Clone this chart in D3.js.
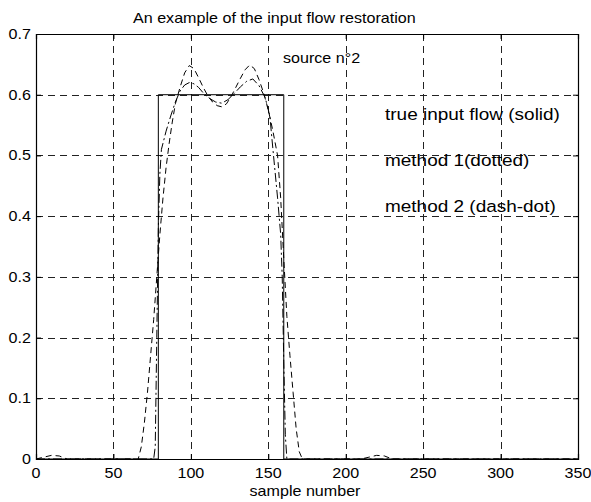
<!DOCTYPE html>
<html>
<head>
<meta charset="utf-8">
<script src="https://cdn.jsdelivr.net/npm/d3@7"></script>
<style>
  body { margin: 0; background: #fff; }
  svg text { font-family: "Liberation Sans", Arial, sans-serif; fill: #000; }
</style>
</head>
<body>
<div id="chart"></div>
<script>
// ticks
const sampleTicks = [0, 50, 100, 150, 200, 250, 300, 350];
const flowTicks = [0, 0.1, 0.2, 0.3, 0.4, 0.5, 0.6, 0.7];

// true input flow (solid)
const trueSamples = [0, 79, 79, 160, 160, 350];
const trueFlow = [0, 0, 0.6, 0.6, 0, 0];

// method 1 (wide restoration, taller humps)
const method1Samples = [0, 5, 10, 15, 20, 60, 66, 68, 70, 72, 74, 76, 78, 80, 82, 84, 86, 88, 90, 93, 96, 99, 102, 105, 108, 111, 114, 117, 120, 123, 126, 129, 132, 135, 138, 141, 144, 147, 150, 153, 156, 158, 160, 162, 164, 166, 168, 170, 172, 210, 215, 220, 225, 230, 350];
const method1Flow = [0, 0.003, 0.006, 0.005, 0, 0, 0, 0.02, 0.06, 0.11, 0.17, 0.23, 0.3, 0.37, 0.43, 0.48, 0.52, 0.555, 0.585, 0.612, 0.636, 0.648, 0.643, 0.628, 0.612, 0.598, 0.588, 0.582, 0.58, 0.585, 0.597, 0.612, 0.627, 0.641, 0.649, 0.643, 0.625, 0.603, 0.575, 0.54, 0.5, 0.43, 0.33, 0.235, 0.17, 0.11, 0.05, 0.012, 0, 0, 0.003, 0.006, 0.005, 0, 0];

// method 2 (steep restoration, lower humps)
const method2Samples = [0, 76, 77, 78, 79, 80, 81, 84, 87, 90, 93, 96, 99, 102, 105, 108, 112, 116, 120, 124, 128, 132, 136, 140, 144, 148, 151, 153, 156, 158, 159, 160, 161, 162, 350];
const method2Flow = [0, 0, 0.02, 0.2, 0.38, 0.47, 0.51, 0.54, 0.565, 0.588, 0.606, 0.616, 0.62, 0.618, 0.612, 0.603, 0.594, 0.588, 0.586, 0.592, 0.602, 0.613, 0.622, 0.626, 0.615, 0.595, 0.565, 0.51, 0.43, 0.37, 0.3, 0.16, 0.04, 0, 0];

const legendLines = ["true input flow (solid)", "method 1(dotted)", "method 2 (dash-dot)"];

const W = 591, H = 502;
const margin = { top: 34, right: 13, bottom: 43, left: 36 };
const stretch = 1.15;

const svg = d3.select("#chart").append("svg")
  .attr("width", W)
  .attr("height", H);

const x = d3.scaleLinear().domain([0, 350]).range([margin.left, W - margin.right]);
const y = d3.scaleLinear().domain([0, 0.7]).range([H - margin.bottom, margin.top]);

// stretched text helper (the original figure text is wider than normal)
function label(g, tx, ty, str, size, anchor) {
  return g.append("text")
    .attr("transform", `translate(${tx},${ty}) scale(${stretch},1)`)
    .attr("text-anchor", anchor || "start")
    .style("font-size", size + "px")
    .text(str);
}

// grid
const grid = svg.append("g").attr("class", "grid")
  .attr("stroke", "#222")
  .attr("stroke-width", 1)
  .attr("stroke-dasharray", "7,5")
  .attr("fill", "none");

grid.selectAll("line.vg").data(sampleTicks.slice(1, -1)).enter().append("line")
  .attr("class", "vg")
  .attr("x1", d => Math.round(x(d)) + 0.5).attr("x2", d => Math.round(x(d)) + 0.5)
  .attr("y1", y(0.7)).attr("y2", y(0));

grid.selectAll("line.hg").data(flowTicks.slice(1, -1)).enter().append("line")
  .attr("class", "hg")
  .attr("y1", d => Math.round(y(d)) + 0.5).attr("y2", d => Math.round(y(d)) + 0.5)
  .attr("x1", x(0)).attr("x2", x(350));

// curves
const lineGen = d3.line().x(d => x(d[0])).y(d => y(d[1]));

svg.append("path")
  .datum(d3.zip(trueSamples, trueFlow))
  .attr("d", lineGen)
  .attr("fill", "none").attr("stroke", "#000").attr("stroke-width", 1);

svg.append("path")
  .datum(d3.zip(method1Samples, method1Flow))
  .attr("d", lineGen)
  .attr("fill", "none").attr("stroke", "#000").attr("stroke-width", 1)
  .attr("stroke-dasharray", "6,4");

svg.append("path")
  .datum(d3.zip(method2Samples, method2Flow))
  .attr("d", lineGen)
  .attr("fill", "none").attr("stroke", "#000").attr("stroke-width", 1)
  .attr("stroke-dasharray", "9,3,2,3");

// axes box with inward ticks
const axBottom = svg.append("g")
  .attr("transform", `translate(0,${y(0)})`)
  .call(d3.axisTop(x).tickValues(sampleTicks).tickSize(5).tickFormat(""));
const axTop = svg.append("g")
  .attr("transform", `translate(0,${y(0.7)})`)
  .call(d3.axisBottom(x).tickValues(sampleTicks).tickSize(5).tickFormat(""));
const axLeft = svg.append("g")
  .attr("transform", `translate(${x(0)},0)`)
  .call(d3.axisRight(y).tickValues(flowTicks).tickSize(5).tickFormat(""));
const axRight = svg.append("g")
  .attr("transform", `translate(${x(350)},0)`)
  .call(d3.axisLeft(y).tickValues(flowTicks).tickSize(5).tickFormat(""));
[axBottom, axTop, axLeft, axRight].forEach(g => {
  g.selectAll("path").attr("stroke", "#000").attr("stroke-width", 1.2);
  g.selectAll("line").attr("stroke", "#000");
});

// tick labels
const lab = svg.append("g");
sampleTicks.forEach(d => label(lab, x(d), y(0) + 19, d3.format("d")(d), 14, "middle"));
flowTicks.forEach(d => label(lab, x(0) - 5, y(d) + 5, d === 0 ? "0" : d3.format(".1f")(d), 14, "end"));

// titles
label(svg, 133, 23, "An example of the input flow restoration", 14, "start");
label(svg, (x(0) + x(350)) / 2 - 2, 496, "sample number", 14, "middle");
label(svg, 283, 63, "source n°2", 14, "start");

// legend text
legendLines.forEach((t, i) => label(svg, 385, 120 + i * 46, t, 16.5, "start"));
</script>
</body>
</html>
